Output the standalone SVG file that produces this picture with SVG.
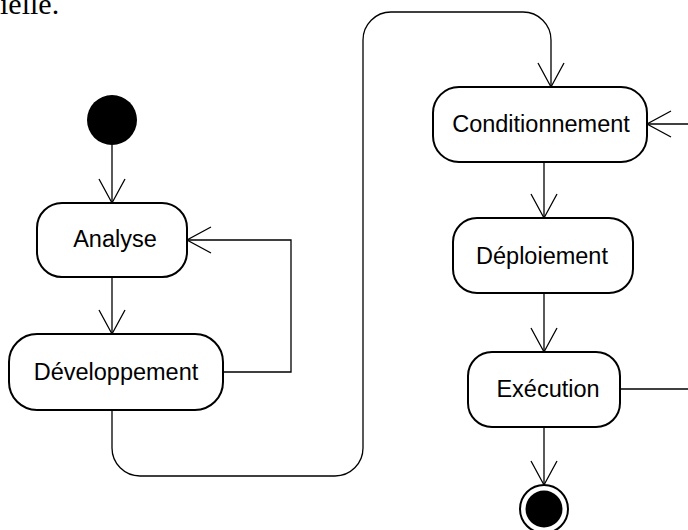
<svg xmlns="http://www.w3.org/2000/svg" width="688" height="530" viewBox="0 0 688 530">
<style>
.box{fill:#fff;stroke:#000;stroke-width:2}
.lbl{font-family:"Liberation Sans",Arial,sans-serif;font-size:23.5px;fill:#000;text-anchor:middle}
.c{fill:none;stroke:#000;stroke-width:1.3}
</style>
<defs>
<marker id="arr" markerUnits="userSpaceOnUse" viewBox="-1 -1 27 28" refX="24" refY="13" markerWidth="27" markerHeight="28" orient="auto" overflow="visible">
<path d="M0 0 L24 13 L0 26" fill="none" stroke="#000" stroke-width="1.3"/>
</marker>
</defs>
<text x="0" y="14" font-family="Liberation Serif, 'Times New Roman', serif" font-size="30">ielle.</text>
<g id="connectors">
<path class="c" d="M112 145 V203" marker-end="url(#arr)"/>
<path class="c" d="M112 277 V334" marker-end="url(#arr)"/>
<path class="c" d="M223 372 H291 V240 H187" marker-end="url(#arr)"/>
<path class="c" d="M112 410 V448 A28 28 0 0 0 140 476 H335 A28 28 0 0 0 363 448 V40 A28 28 0 0 1 391 12 H523 A28 28 0 0 1 551 40 V87" marker-end="url(#arr)"/>
<path class="c" d="M688 124 H647" marker-end="url(#arr)"/>
<path class="c" d="M544 162 V218" marker-end="url(#arr)"/>
<path class="c" d="M544 293 V352" marker-end="url(#arr)"/>
<path class="c" d="M620 389 H688"/>
<path class="c" d="M544 427 V485" marker-end="url(#arr)"/>
</g>
<g id="start"><circle cx="112" cy="120" r="25" fill="#000"/></g>
<g id="analyse"><rect class="box" x="37" y="203" width="150" height="74" rx="25"/><text class="lbl" x="115" y="247">Analyse</text></g>
<g id="developpement"><rect class="box" x="9" y="334" width="214" height="76" rx="28"/><text class="lbl" x="116" y="380">Développement</text></g>
<g id="conditionnement"><rect class="box" x="433" y="87" width="214" height="75" rx="26"/><text class="lbl" x="541" y="132">Conditionnement</text></g>
<g id="deploiement"><rect class="box" x="453" y="218" width="180" height="75" rx="24"/><text class="lbl" x="542" y="264">Déploiement</text></g>
<g id="execution"><rect class="box" x="468" y="352" width="152" height="75" rx="24"/><text class="lbl" x="548" y="397">Exécution</text></g>
<g id="end"><circle cx="544" cy="509" r="24" fill="#fff" stroke="#000" stroke-width="2"/><circle cx="544" cy="509" r="18.5" fill="#000"/></g>
</svg>
